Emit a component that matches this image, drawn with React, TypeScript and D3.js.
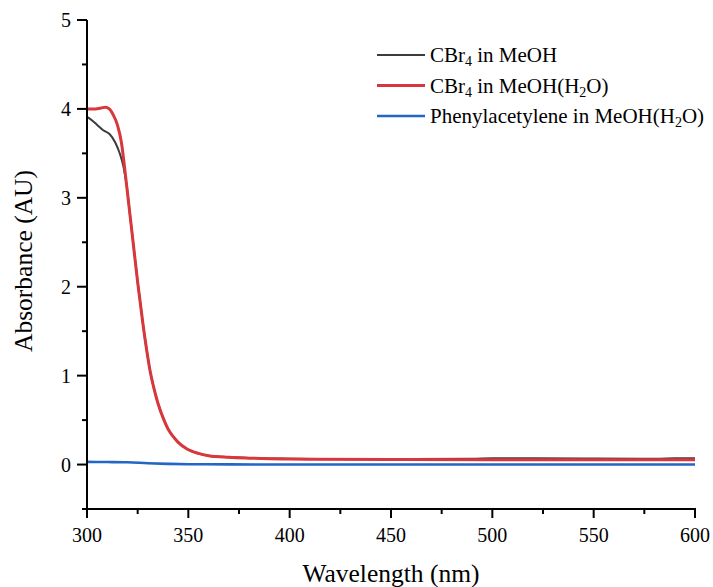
import * as d3 from "d3";

// wavelength (nm) / absorbance (AU)
const meohWl = [300, 302, 305, 308, 311, 314, 316, 318, 319.5, 321, 323, 325, 327.5, 329.5, 331, 333, 335, 338, 340, 342, 345, 349, 355, 360, 370, 380, 390, 400, 430, 460, 490, 500, 520, 550, 580, 590, 600];
const meohAbs = [3.91, 3.88, 3.82, 3.76, 3.72, 3.62, 3.51, 3.35, 3.15, 2.85, 2.45, 2.05, 1.6, 1.28, 1.07, 0.86, 0.69, 0.5, 0.4, 0.33, 0.25, 0.18, 0.125, 0.1, 0.082, 0.075, 0.068, 0.066, 0.062, 0.062, 0.064, 0.07, 0.07, 0.068, 0.066, 0.07, 0.072];

const waterWl = [300, 304, 307, 309, 311, 313, 315, 317, 319, 321, 323, 325, 327.5, 329.5, 331, 333, 335, 338, 340, 342, 345, 349, 355, 360, 370, 380, 390, 400, 450, 500, 550, 600];
const waterAbs = [4.0, 4.0, 4.01, 4.02, 4.0, 3.93, 3.82, 3.62, 3.25, 2.85, 2.45, 2.05, 1.6, 1.28, 1.07, 0.86, 0.69, 0.5, 0.4, 0.33, 0.25, 0.18, 0.125, 0.1, 0.082, 0.072, 0.065, 0.062, 0.058, 0.055, 0.055, 0.055];

const phenylWl = [300, 310, 320, 330, 340, 350, 370, 400, 500, 600];
const phenylAbs = [0.03, 0.028, 0.025, 0.015, 0.008, 0.004, 0.002, 0.0, 0.0, 0.0];

const xTicks = [300, 350, 400, 450, 500, 550, 600];
const xMinor = [325, 375, 425, 475, 525, 575];
const yTicks = [0, 1, 2, 3, 4, 5];
const yMinor = [-0.5, 0.5, 1.5, 2.5, 3.5, 4.5];

const W = 713;
const H = 587;
const margin = { left: 87, right: 18, top: 20, bottom: 78 };
const font = "'Liberation Serif', 'Times New Roman', serif";

const series = [
  { wl: meohWl, abs: meohAbs, color: "#3c3c3c", width: 2, label: ["CBr", "4", " in MeOH"] },
  { wl: waterWl, abs: waterAbs, color: "#d8373c", width: 3, label: ["CBr", "4", " in MeOH(H", "2", "O)"] },
  { wl: phenylWl, abs: phenylAbs, color: "#2367c6", width: 2.6, label: ["Phenylacetylene in MeOH(H", "2", "O)"] },
];

export default function App() {
  const x = d3.scaleLinear().domain([300, 600]).range([margin.left, W - margin.right]);
  const y = d3.scaleLinear().domain([-0.5, 5]).range([H - margin.bottom, margin.top]);
  const x0 = x(300);
  const yb = y(-0.5);

  const line = d3
    .line<[number, number]>()
    .x((d) => x(d[0]))
    .y((d) => y(d[1]))
    .curve(d3.curveMonotoneX);

  return (
    <div style={{ position: "absolute", left: 0, top: 0 }}>
      <svg width={W} height={H} viewBox={`0 0 ${W} ${H}`} fontFamily={font}>
        <rect width={W} height={H} fill="white" />
        {series.map((s, i) => (
          <path
            key={i}
            d={line(s.wl.map((w, j) => [w, s.abs[j]]) as [number, number][]) ?? ""}
            fill="none"
            stroke={s.color}
            strokeWidth={s.width}
            strokeLinejoin="round"
          />
        ))}

        {/* axes */}
        <line x1={x0} x2={x(600) + 1} y1={yb} y2={yb} stroke="black" strokeWidth={2} />
        <line x1={x0} x2={x0} y1={y(5)} y2={yb + 1} stroke="black" strokeWidth={2} />
        {xTicks.map((t) => (
          <g key={t}>
            <line x1={x(t)} x2={x(t)} y1={yb} y2={yb + 9} stroke="black" strokeWidth={2} />
            <text x={x(t)} y={542} fontSize={20} textAnchor="middle">
              {t}
            </text>
          </g>
        ))}
        {xMinor.map((t) => (
          <line key={t} x1={x(t)} x2={x(t)} y1={yb} y2={yb + 5} stroke="black" strokeWidth={2} />
        ))}
        {yTicks.map((t) => (
          <g key={t}>
            <line x1={x0 - 10} x2={x0} y1={y(t)} y2={y(t)} stroke="black" strokeWidth={2} />
            <text x={71} y={y(t)} fontSize={20} textAnchor="end" dominantBaseline="central">
              {t}
            </text>
          </g>
        ))}
        {yMinor.map((t) => (
          <line key={t} x1={x0 - 5} x2={x0} y1={y(t)} y2={y(t)} stroke="black" strokeWidth={2} />
        ))}

        <text x={391} y={582} fontSize={25.5} textAnchor="middle">
          Wavelength (nm)
        </text>
        <text transform="translate(32,261) rotate(-90)" fontSize={25.5} textAnchor="middle">
          Absorbance (AU)
        </text>

        {/* legend */}
        {series.map((s, i) => {
          const ly = 55 + i * 30.5;
          return (
            <g key={i}>
              <line x1={377} x2={425} y1={ly} y2={ly} stroke={s.color} strokeWidth={s.width} />
              <text x={430} y={ly + 7} fontSize={21}>
                {s.label.map((p, k) =>
                  k % 2 === 1 ? (
                    <tspan key={k} fontSize={14} dy={4}>
                      {p}
                    </tspan>
                  ) : (
                    <tspan key={k} dy={k === 0 ? 0 : -4}>
                      {p}
                    </tspan>
                  ),
                )}
              </text>
            </g>
          );
        })}
      </svg>
    </div>
  );
}
